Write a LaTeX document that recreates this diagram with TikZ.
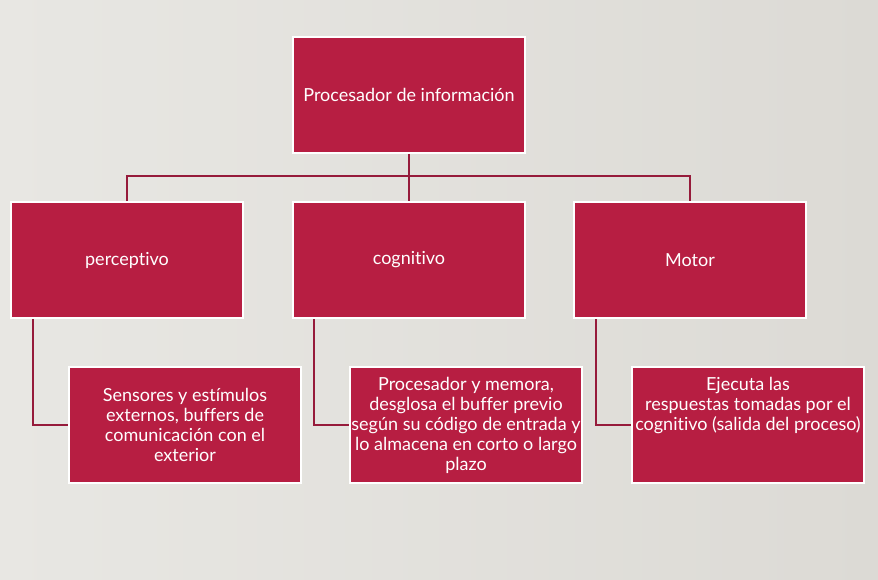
\documentclass[tikz,border=0pt]{standalone}
\usepackage{fontspec}
\setmainfont{Lato}[Ligatures=NoCommon]
\begin{document}
\begin{tikzpicture}[x=1pt,y=-1pt,
  box/.style={fill=boxred, draw=white, line width=2pt, minimum width=232pt, minimum height=116pt, inner sep=0pt, anchor=north west, text=white, font=\fontsize{18}{20}\selectfont, align=center},
  conn/.style={draw=connred, line width=2pt}]
\definecolor{boxred}{HTML}{B71E42}
\definecolor{connred}{HTML}{961B3B}
\shade[left color={rgb,255:red,232;green,231;blue,227}, right color={rgb,255:red,220;green,218;blue,213}] (0,0) rectangle (878,580);
\useasboundingbox (0,0) rectangle (878,580);
\node[box] (top) at (292,36) {Procesador de información};
\node[box] (perc) at (10,201) {perceptivo};
\node[box] (cog) at (292,201) {cognitivo};
\node[box] (mot) at (573,201) {Motor};
\node[box] (s1) at (68,366) {Sensores y estímulos\\externos, buffers de\\comunicación con el\\exterior};
\node[box] (s2) at (349,366) {Procesador y memora,\\desglosa el buffer previo\\según su código de entrada y\\lo almacena en corto o largo\\plazo};
\node[box] (s3) at (631,366) {\begin{minipage}[c][112pt][t]{228pt}\centering\vspace{8pt}Ejecuta las\\respuestas tomadas por el\\cognitivo (salida del proceso)\end{minipage}};
\coordinate (bus) at (408,176);
\draw[conn] (top.south) -- (cog.north);
\draw[conn] (perc.north) -- (perc.north |- bus) -- (mot.north |- bus) -- (mot.north);
\draw[conn] ([xshift=23pt]perc.south west) |- (s1.west);
\draw[conn] ([xshift=22pt]cog.south west) |- (s2.west);
\draw[conn] ([xshift=23pt]mot.south west) |- (s3.west);
\end{tikzpicture}
\end{document}
